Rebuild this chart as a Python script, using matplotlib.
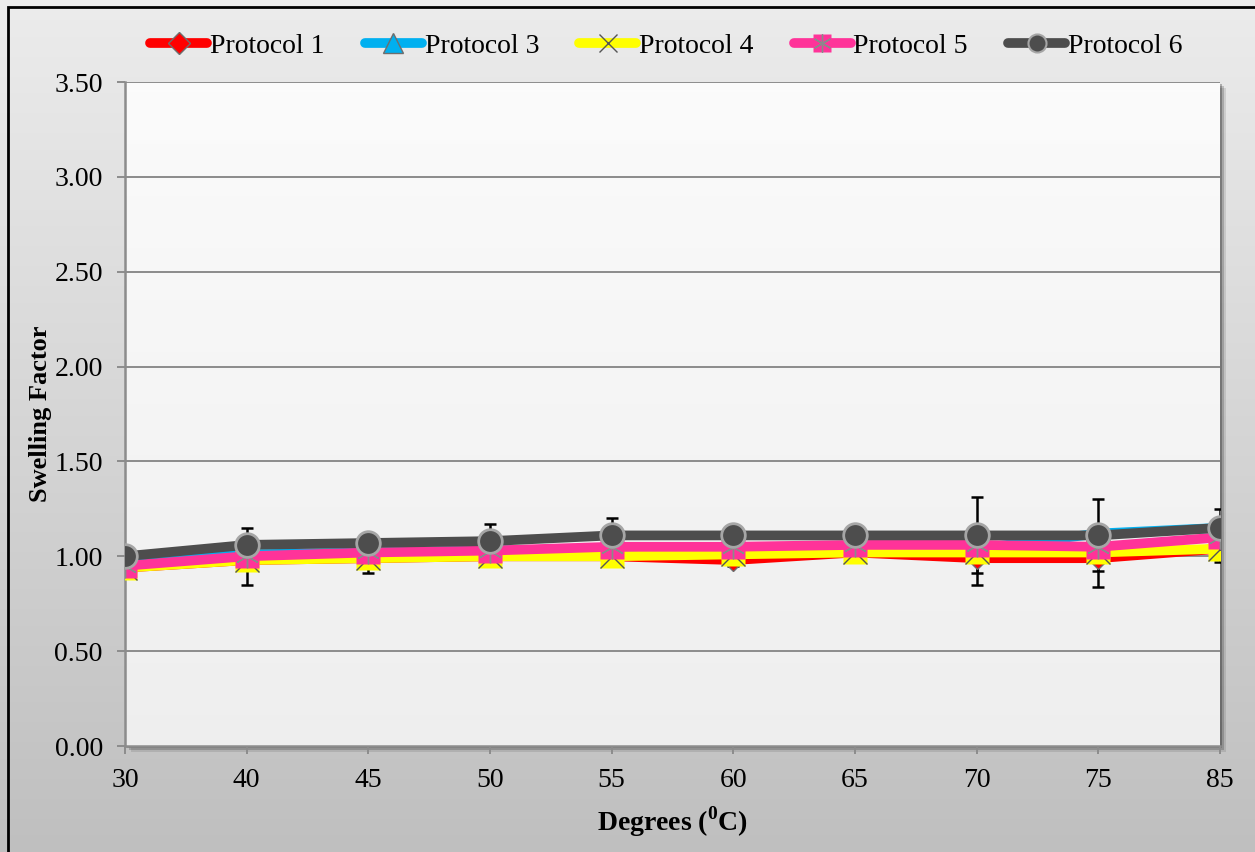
import numpy as np
import matplotlib
matplotlib.use("Agg")
import matplotlib.pyplot as plt
from matplotlib.patches import Rectangle
from matplotlib.legend_handler import HandlerTuple
from matplotlib.lines import Line2D

plt.rcParams['font.family'] = ['Liberation Serif', 'DejaVu Serif']
plt.rcParams['mathtext.fontset'] = 'custom'
plt.rcParams['mathtext.rm'] = 'Liberation Serif:bold'
plt.rcParams['mathtext.bf'] = 'Liberation Serif:bold'

# ---- data ----
temps = ["30", "40", "45", "50", "55", "60", "65", "70", "75", "85"]
protocol1 = [0.94, 0.98, 0.99, 1.00, 1.00, 0.98, 1.02, 0.99, 0.99, 1.04]
protocol3 = [0.99, 1.01, 1.02, 1.03, 1.04, 1.04, 1.04, 1.04, 1.12, 1.15]
protocol4 = [0.94, 0.98, 0.99, 1.00, 1.00, 1.01, 1.02, 1.02, 1.02, 1.04]
protocol5 = [0.95, 1.00, 1.02, 1.03, 1.05, 1.05, 1.06, 1.06, 1.05, 1.10]
protocol6 = [1.00, 1.06, 1.07, 1.08, 1.11, 1.11, 1.11, 1.11, 1.11, 1.15]
err1 = [0.05, 0.13, 0.08, 0.04, 0.03, 0.03, 0.03, 0.14, 0.15, 0.07]
err6 = [0.04, 0.09, 0.04, 0.09, 0.09, 0.03, 0.03, 0.20, 0.19, 0.10]
yticks = [0.00, 0.50, 1.00, 1.50, 2.00, 2.50, 3.00, 3.50]

W, H = 1255, 852
fig = plt.figure(figsize=(W / 100, H / 100), dpi=100)

# background gradient
bg = fig.add_axes([0, 0, 1, 1], zorder=-10)
grad = np.linspace(0, 1, 256)[:, None]
c_top = np.array([0.925, 0.925, 0.925])
c_bot = np.array([0.75, 0.75, 0.75])
img = c_top[None, None, :] * (1 - grad[:, :, None]) + c_bot[None, None, :] * grad[:, :, None]
bg.imshow(img, aspect='auto', extent=[0, 1, 0, 1])
bg.set_xlim(0, 1); bg.set_ylim(0, 1)
bg.axis('off')
# black border top/left
bg.add_patch(Rectangle((8 / W, -0.1), 1.2, (852 - 7) / H + 0.1, fill=False,
                       edgecolor='black', linewidth=2.0, zorder=5))

x0, x1 = 125 / W, 1220 / W
y0, y1 = (H - 746) / H, (H - 82) / H
# shadow
for off, a in [(6, 0.10), (4, 0.18), (2, 0.25)]:
    bg.add_patch(Rectangle((x0 + off / W, y0 - off / H), x1 - x0, y1 - y0,
                           facecolor='black', alpha=a, edgecolor='none', zorder=1))

ax = fig.add_axes([x0, y0, x1 - x0, y1 - y0])
ax.set_facecolor('none')
# plot-area gradient
pg = np.linspace(0, 1, 256)[:, None]
ptop = np.array([0.985, 0.985, 0.985]); pbot = np.array([0.935, 0.935, 0.935])
pimg = ptop[None, None, :] * (1 - pg[:, :, None]) + pbot[None, None, :] * pg[:, :, None]
ax.imshow(pimg, aspect='auto', extent=[0, len(temps) - 1, 0, 3.5], zorder=0)

xs = np.arange(len(temps))
ax.set_xlim(0, len(temps) - 1)
ax.set_ylim(0, 3.5)

for y in yticks[1:]:
    ax.axhline(y, color='#8c8c8c', linewidth=1.4, zorder=1)

lw = 7.0
edge = '#6e6e6e'
# error bars
ax.errorbar(xs, protocol1, yerr=err1, fmt='none', ecolor='black', elinewidth=1.8,
            capsize=4.5, capthick=1.8, zorder=2)
ax.errorbar(xs, protocol6, yerr=err6, fmt='none', ecolor='black', elinewidth=1.8,
            capsize=4.5, capthick=1.8, zorder=2)

l1, = ax.plot(xs, protocol1, color='#ff0000', linewidth=lw, marker='D', markersize=11,
              markerfacecolor='#ff0000', markeredgecolor=edge, markeredgewidth=1.0, zorder=3)
l3, = ax.plot(xs, protocol3, color='#00b0f0', linewidth=lw, marker='^', markersize=14,
              markerfacecolor='#00b0f0', markeredgecolor=edge, markeredgewidth=1.0, zorder=4)
l4, = ax.plot(xs, protocol4, color='#ffff00', linewidth=lw, marker='s', markersize=17,
              markerfacecolor='#ffff00', markeredgecolor='none', zorder=5)
l4x, = ax.plot(xs, protocol4, linestyle='none', marker='x', markersize=17,
               markeredgecolor='#555555', markeredgewidth=1.0, zorder=5.1)
l5, = ax.plot(xs, protocol5, color='#ff3399', linewidth=lw, marker='s', markersize=17,
              markerfacecolor='#ff3399', markeredgecolor='none', zorder=6)
l5x, = ax.plot(xs, protocol5, linestyle='none', marker=(6, 2, 0), markersize=17,
               markeredgecolor='#8a8a8a', markeredgewidth=1.0, zorder=6.1)
l6, = ax.plot(xs, protocol6, color='#4d4d4d', linewidth=lw, marker='o', markersize=17,
              markerfacecolor='#4d4d4d', markeredgecolor='#a6a6a6', markeredgewidth=2.0, zorder=7)

ax.set_xticks(xs)
ax.set_xticklabels(temps)
ax.set_yticks(yticks)
ax.set_yticklabels([f"{v:.2f}" for v in yticks])
ax.tick_params(axis='both', labelsize=20, color='#8c8c8c', length=6, width=1.4, direction='out')
ax.tick_params(axis='x', pad=10)
ax.tick_params(axis='y', pad=10)
for s in ['top', 'right']:
    ax.spines[s].set_visible(False)
for s in ['left', 'bottom']:
    ax.spines[s].set_color('#8c8c8c')
    ax.spines[s].set_linewidth(1.8)
    ax.spines[s].set_zorder(2)

ax.set_ylabel('Swelling Factor', fontsize=19, fontweight='bold')
ax.set_xlabel(r'Degrees ($^{\mathrm{0}}$C)', fontsize=20, fontweight='bold')
ax.yaxis.set_label_coords(-0.0775, 0.5)
ax.xaxis.set_label_coords(0.5, -0.1145)
ax.xaxis.label.set_va('center')
ax.yaxis.label.set_va('center')


def lh(color, **kw):
    return Line2D([], [], color=color, linewidth=lw, solid_capstyle='round', **kw)


h1 = lh('#ff0000', marker='D', markersize=11, markerfacecolor='#ff0000', markeredgecolor=edge)
h3 = lh('#00b0f0', marker='^', markersize=14, markerfacecolor='#00b0f0', markeredgecolor=edge)
h4 = (lh('#ffff00'), Line2D([], [], linestyle='none', marker='x', markersize=13,
                             markeredgecolor='#555555', markeredgewidth=1.0))
h5 = (lh('#ff3399', marker='s', markersize=13, markerfacecolor='#ff3399', markeredgecolor='none'),
      Line2D([], [], linestyle='none', marker=(6, 2, 0), markersize=13,
             markeredgecolor='#8a8a8a', markeredgewidth=1.0))
h6 = lh('#4d4d4d', marker='o', markersize=13, markerfacecolor='#4d4d4d',
        markeredgecolor='#a6a6a6', markeredgewidth=1.5)

fig.legend([h1, h3, h4, h5, h6],
           ['Protocol 1', 'Protocol 3', 'Protocol 4', 'Protocol 5', 'Protocol 6'],
           handler_map={tuple: HandlerTuple(ndivide=1, pad=0)},
           loc='center', bbox_to_anchor=(0.531, 1 - 46 / H), ncol=5, frameon=False,
           fontsize=20, handlelength=2.05, handletextpad=0.1, columnspacing=1.45, numpoints=1)

fig.savefig('out.png', dpi=100)
